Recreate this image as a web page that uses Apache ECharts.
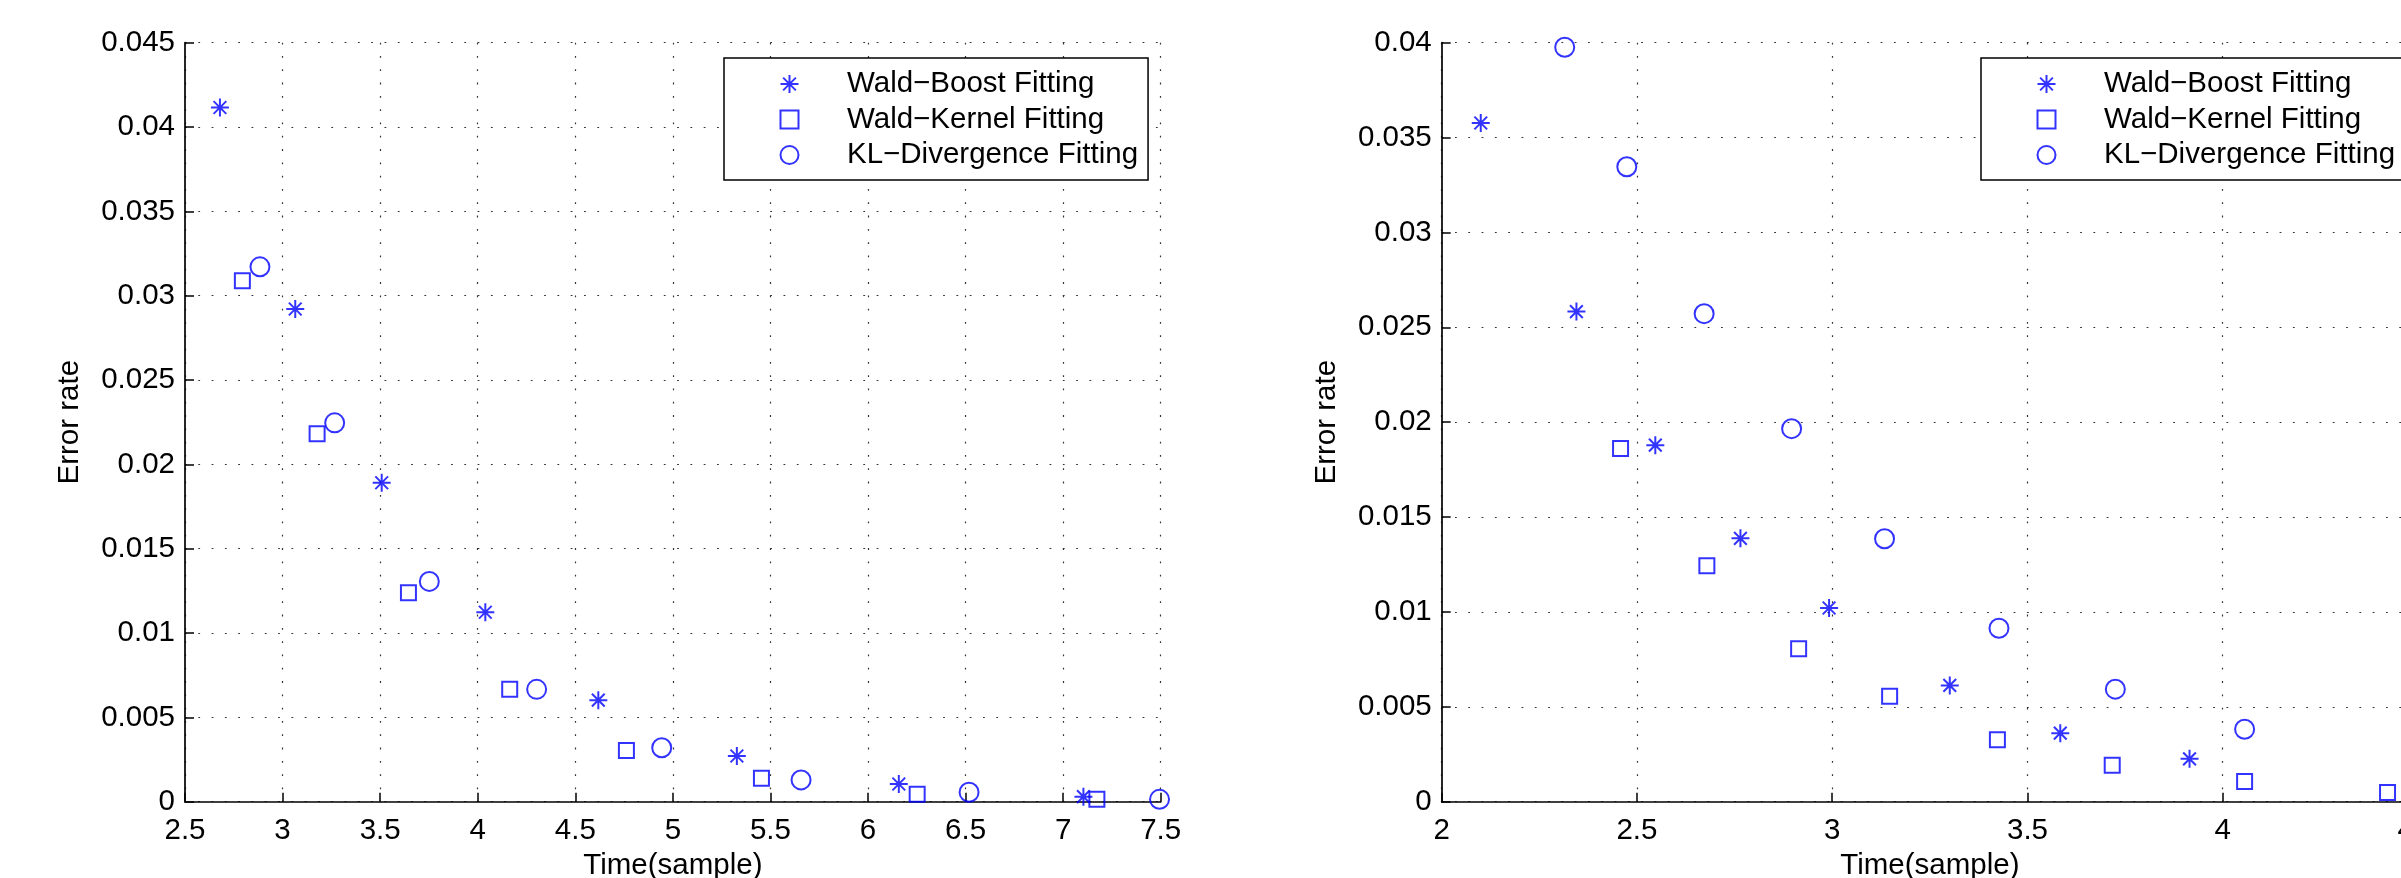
<!DOCTYPE html>
<html>
<head>
<meta charset="utf-8">
<title>Error rate vs Time(sample)</title>
<script src="https://cdn.jsdelivr.net/npm/echarts@6/dist/echarts.min.js"></script>
<style>
html, body { margin: 0; padding: 0; background: #fff; }
#wrap { width: 2401px; height: 878px; overflow: hidden; }
.echarts { float: left; height: 878px; }
#chartLeft { width: 1200px; }
#chartRight { width: 1201px; }
</style>
</head>
<body>
<div id="wrap">
	<div class="echarts" id="chartLeft"></div>
	<div class="echarts" id="chartRight"></div>
</div>
<script>
/* 数据：左图 */
var leftBoostX  = [2.679, 3.065, 3.508, 4.039, 4.618, 5.328, 6.158, 7.104];
var leftBoostY  = [0.04116, 0.02921, 0.01891, 0.01123, 0.00602, 0.00271, 0.00105, 0.0003];
var leftKernelX = [2.794, 3.177, 3.645, 4.164, 4.762, 5.454, 6.252, 7.173];
var leftKernelY = [0.03089, 0.02182, 0.01239, 0.00666, 0.00303, 0.00139, 0.00044, 0.00014];
var leftKLX     = [2.884, 3.267, 3.752, 4.302, 4.943, 5.657, 6.518, 7.494];
var leftKLY     = [0.03171, 0.02246, 0.01306, 0.00666, 0.0032, 0.00129, 0.00056, 0.00014];

/* 数据：右图 */
var rightBoostX  = [2.1, 2.345, 2.547, 2.765, 2.992, 3.301, 3.584, 3.915];
var rightBoostY  = [0.03577, 0.02583, 0.01879, 0.01388, 0.01021, 0.00613, 0.00361, 0.00226];
var rightKernelX = [2.458, 2.679, 2.914, 3.147, 3.423, 3.717, 4.056, 4.422];
var rightKernelY = [0.01861, 0.01244, 0.00806, 0.00556, 0.00327, 0.00192, 0.00106, 0.00049];
var rightKLX     = [2.315, 2.474, 2.672, 2.896, 3.134, 3.427, 3.725, 4.056];
var rightKLY     = [0.03976, 0.03346, 0.02572, 0.01966, 0.01386, 0.00914, 0.00593, 0.00382];

/* 坐标轴范围 [min, max, interval] */
var leftXTicks  = [2.5, 7.5, 0.5];
var leftYTicks  = [0, 0.045, 0.005];
var rightXTicks = [2, 4.5, 0.5];
var rightYTicks = [0, 0.04, 0.005];

var seriesNames = ['Wald\u2212Boost Fitting', 'Wald\u2212Kernel Fitting', 'KL\u2212Divergence Fitting'];

var FONT = '"Liberation Sans", Arial, Helvetica, sans-serif';
var BLUE = '#0000ff';
var STAR = 'path://M0,5L10,5M5,0L5,10M1.46,1.46L8.54,8.54M1.46,8.54L8.54,1.46';
var SQUARE = 'path://M0,0L10,0L10,10L0,10Z';

function zip(xs, ys) {
	var out = [];
	xs.forEach(function (x, i) { out.push([x, ys[i]]); });
	return out;
}

function axisCommon(range) {
	return {
		type: 'value',
		min: range[0],
		max: range[1],
		interval: range[2],
		axisLine: { show: true, onZero: false, lineStyle: { color: '#000', width: 1.7 } },
		axisTick: { show: true, inside: true, length: 9, lineStyle: { color: '#000', width: 1.5 } },
		splitLine: { show: true, lineStyle: { color: '#333', width: 1.2, type: [1.8, 11.5] } },
		nameTextStyle: { fontSize: 29.5, color: '#000', fontFamily: FONT },
		nameLocation: 'middle'
	};
}

function buildOption(cfg) {
	var xAxis = axisCommon(cfg.xTicks);
	xAxis.name = 'Time(sample)';
	xAxis.nameGap = 47;
	xAxis.axisLabel = { margin: 14, fontSize: 29.5, color: '#000', fontFamily: FONT };

	var yAxis = axisCommon(cfg.yTicks);
	yAxis.name = 'Error rate';
	yAxis.nameGap = 100;
	yAxis.axisLabel = {
		margin: 10, fontSize: 29.5, color: '#000', fontFamily: FONT,
		formatter: function (v) { return String(+v.toFixed(3)); }
	};

	var hollow = { color: 'rgba(0,0,0,0)', borderColor: BLUE, borderWidth: 2 };
	return {
		animation: false,
		grid: {
			left: cfg.gridLeft, top: 42.7, width: cfg.gridWidth, height: 759,
			containLabel: false, outerBoundsMode: 'none'
		},
		legend: {
			orient: 'vertical',
			left: cfg.legendLeft,
			top: 58,
			padding: [11, 10, 10, 55.5],
			itemWidth: 105,
			itemHeight: 18,
			itemGap: 5.5,
			selectedMode: false,
			backgroundColor: '#fff',
			borderColor: '#000',
			borderWidth: 1.5,
			borderRadius: 0,
			itemStyle: { borderWidth: 2 },
			textStyle: { fontSize: 29.5, color: '#000', fontFamily: FONT },
			data: seriesNames
		},
		xAxis: xAxis,
		yAxis: yAxis,
		series: [
			{
				name: seriesNames[0], type: 'scatter', symbol: STAR, symbolSize: 18,
				clip: false, itemStyle: hollow, data: cfg.boost
			},
			{
				name: seriesNames[1], type: 'scatter', symbol: SQUARE, symbolSize: 15,
				clip: false, itemStyle: hollow, data: cfg.kernel
			},
			{
				name: seriesNames[2], type: 'scatter', symbol: 'circle', symbolSize: 19,
				clip: false, itemStyle: hollow, data: cfg.kl
			}
		]
	};
}

var chartLeft = echarts.init(document.getElementById('chartLeft'));
chartLeft.setOption(buildOption({
	gridLeft: 185, gridWidth: 975.7, legendLeft: 724,
	xTicks: leftXTicks, yTicks: leftYTicks,
	boost: zip(leftBoostX, leftBoostY),
	kernel: zip(leftKernelX, leftKernelY),
	kl: zip(leftKLX, leftKLY)
}));

var chartRight = echarts.init(document.getElementById('chartRight'));
chartRight.setOption(buildOption({
	gridLeft: 241.7, gridWidth: 976.3, legendLeft: 781,
	xTicks: rightXTicks, yTicks: rightYTicks,
	boost: zip(rightBoostX, rightBoostY),
	kernel: zip(rightKernelX, rightKernelY),
	kl: zip(rightKLX, rightKLY)
}));
</script>
</body>
</html>
